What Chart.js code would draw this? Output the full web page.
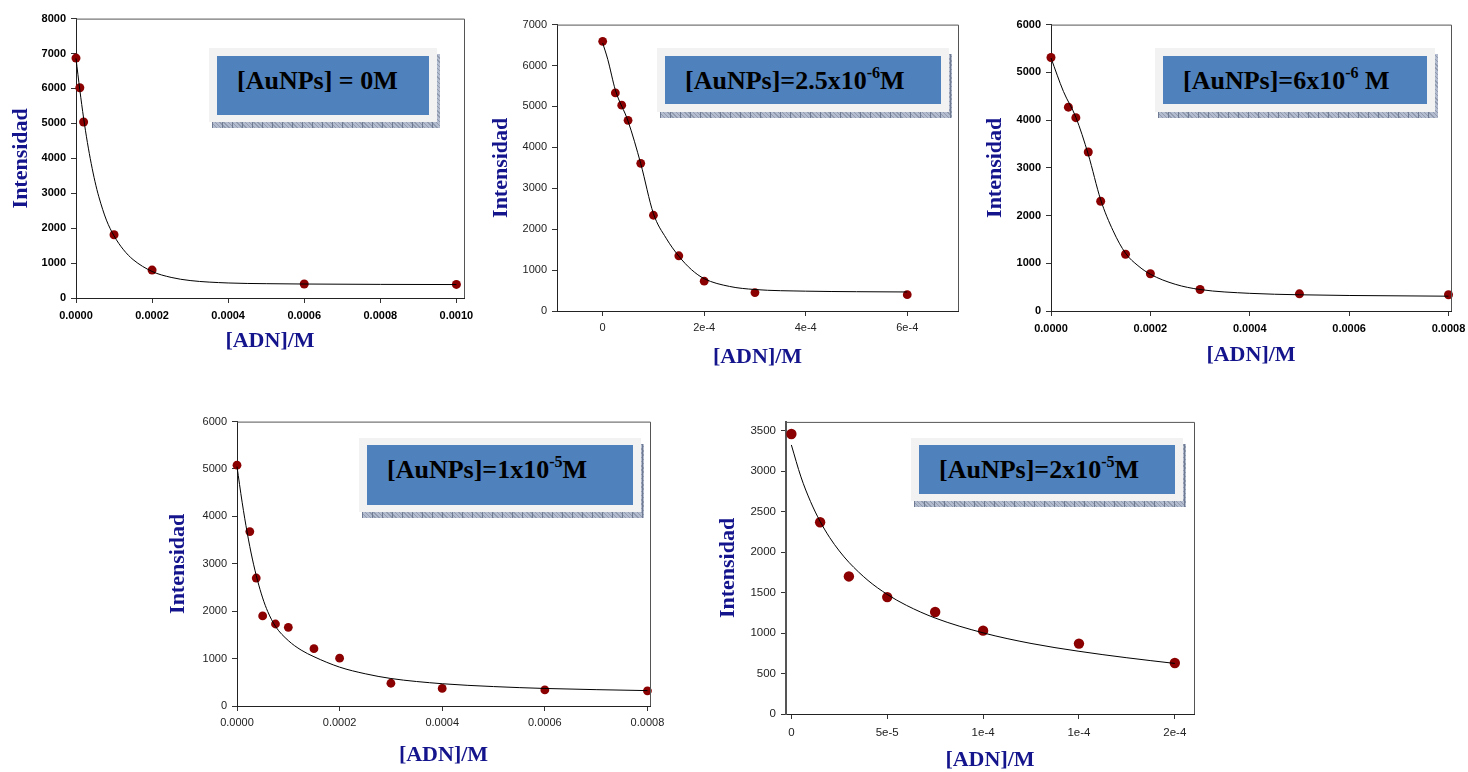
<!DOCTYPE html>
<html lang="es">
<head>
<meta charset="utf-8">
<title>Intensidad vs [ADN]</title>
<script src="https://cdn.jsdelivr.net/npm/chart.js@4.4.1/dist/chart.umd.min.js"></script>
<style>
  html, body { margin: 0; padding: 0; background: #fff; }
  body { position: relative; width: 1468px; height: 772px; overflow: hidden; }
  canvas { position: absolute; }
  .tag { position: absolute; }
  .tag .shadow {
    position: absolute;
    background-color: #b3bdcf;
    background-image:
      repeating-linear-gradient(90deg, #6f7b92 0 1px, transparent 1px 10px),
      repeating-linear-gradient(45deg, rgba(80,92,118,0.35) 0 1px, transparent 1px 3px);
  }
  .tag .outer { position: absolute; background: #f2f2f2; }
  .tag .inner {
    position: absolute; background: #4f81bd; box-sizing: border-box;
    padding: 12px 0 0 20px; line-height: 26px;
    font-family: "Liberation Serif", "Times New Roman", serif;
    font-weight: bold; font-size: 26px; color: #000; white-space: nowrap;
  }
  .tag sup { font-size: 0.62em; vertical-align: 0; position: relative; top: -0.66em; }
</style>
</head>
<body>
<script>
// ---- measured data: [ADN] (M) and fluorescence intensity ----

// [AuNPs] = 0 M
const ADN_0 = [0, 1e-5, 2e-5, 1e-4, 2e-4, 6e-4, 1e-3];
const INT_0 = [6870, 6020, 5040, 1810, 800, 400, 390];
const FIT_X_0 = [0, 1e-5, 2e-5, 3e-5, 4e-5, 5e-5, 6e-5, 8e-5, 1e-4, 1.25e-4, 1.5e-4, 2e-4, 2.5e-4, 3e-4, 4e-4, 5e-4, 6e-4, 8e-4, 1e-3];
const FIT_Y_0 = [6860, 5960, 5150, 4450, 3850, 3330, 2900, 2230, 1780, 1380, 1100, 760, 590, 500, 430, 410, 400, 390, 385];

// [AuNPs] = 2.5e-6 M
const ADN_25 = [0, 2.5e-5, 3.75e-5, 5e-5, 7.5e-5, 1e-4, 1.5e-4, 2e-4, 3e-4, 6e-4];
const INT_25 = [6590, 5330, 5030, 4660, 3610, 2340, 1350, 730, 450, 400];
const FIT_X_25 = [0, 1e-5, 2.5e-5, 5e-5, 7.5e-5, 1e-4, 1.25e-4, 1.5e-4, 1.75e-4, 2e-4, 2.5e-4, 3e-4, 4e-4, 5e-4, 6e-4];
const FIT_Y_25 = [6550, 6150, 5400, 4640, 3600, 2380, 1780, 1340, 1010, 790, 600, 525, 485, 472, 465];

// [AuNPs] = 6e-6 M
const ADN_6 = [0, 3.5e-5, 5e-5, 7.5e-5, 1e-4, 1.5e-4, 2e-4, 3e-4, 5e-4, 8e-4];
const INT_6 = [5310, 4270, 4050, 3330, 2300, 1190, 780, 450, 360, 340];
const FIT_X_6 = [0, 2.5e-5, 5e-5, 7.5e-5, 1e-4, 1.25e-4, 1.5e-4, 1.75e-4, 2e-4, 2.5e-4, 3e-4, 4e-4, 5e-4, 6e-4, 8e-4];
const FIT_Y_6 = [5300, 4600, 4060, 3280, 2330, 1680, 1210, 950, 770, 560, 450, 370, 340, 325, 310];

// [AuNPs] = 1e-5 M
const ADN_10 = [0, 2.5e-5, 3.75e-5, 5e-5, 7.5e-5, 1e-4, 1.5e-4, 2e-4, 3e-4, 4e-4, 6e-4, 8e-4];
const INT_10 = [5080, 3680, 2700, 1900, 1730, 1660, 1210, 1010, 480, 370, 340, 320];
const FIT_X_10 = [0, 1e-5, 2e-5, 3e-5, 4e-5, 5e-5, 6e-5, 7.5e-5, 1e-4, 1.25e-4, 1.5e-4, 2e-4, 2.5e-4, 3e-4, 4e-4, 5e-4, 6e-4, 7e-4, 8e-4];
const FIT_Y_10 = [5050, 4300, 3650, 3100, 2650, 2280, 1990, 1680, 1380, 1180, 1040, 820, 680, 580, 470, 410, 370, 345, 325];

// [AuNPs] = 2e-5 M
const ADN_20 = [0, 1.5e-5, 3e-5, 5e-5, 7.5e-5, 1e-4, 1.5e-4, 2e-4];
const INT_20 = [3460, 2370, 1700, 1445, 1260, 1030, 870, 630];
const FIT_X_20 = [0, 0.5e-5, 1e-5, 1.5e-5, 2e-5, 2.5e-5, 3e-5, 4e-5, 5e-5, 6e-5, 7.5e-5, 1e-4, 1.25e-4, 1.5e-4, 1.75e-4, 2e-4];
const FIT_Y_20 = [3325, 2930, 2625, 2380, 2180, 2015, 1875, 1650, 1478, 1343, 1186, 1003, 872, 775, 695, 625];

// ---- tick values and their printed labels ----
const Y_TICKS_8000 = [0, 1000, 2000, 3000, 4000, 5000, 6000, 7000, 8000];
const Y_TICKS_7000 = [0, 1000, 2000, 3000, 4000, 5000, 6000, 7000];
const Y_TICKS_6000 = [0, 1000, 2000, 3000, 4000, 5000, 6000];
const Y_TICKS_3500 = [0, 500, 1000, 1500, 2000, 2500, 3000, 3500];

const X_TICKS_0 = [0, 0.0002, 0.0004, 0.0006, 0.0008, 0.0010];
const X_LABELS_0 = ["0.0000", "0.0002", "0.0004", "0.0006", "0.0008", "0.0010"];
const X_TICKS_25 = [0, 2e-4, 4e-4, 6e-4];
const X_LABELS_25 = ["0", "2e-4", "4e-4", "6e-4"];
const X_TICKS_8 = [0, 0.0002, 0.0004, 0.0006, 0.0008];
const X_LABELS_8 = ["0.0000", "0.0002", "0.0004", "0.0006", "0.0008"];
const X_TICKS_20 = [0, 5e-5, 1e-4, 1.5e-4, 2e-4];
const X_LABELS_20 = ["0", "5e-5", "1e-4", "1e-4", "2e-4"];

const TITLES = ["[AuNPs] = 0M", "[AuNPs]=2.5x10<sup>-6</sup>M", "[AuNPs]=6x10<sup>-6</sup> M", "[AuNPs]=1x10<sup>-5</sup>M", "[AuNPs]=2x10<sup>-5</sup>M"];

// ---- panel layout (page pixels) ----
const panels = [
  { plot: [76, 17, 464, 298], yTitleX: 21, xTitleY: 341, bold: true, tickSize: 11, r: 4.5, xPad: 6,
    x: { min: 0, max: 0.00102, ticks: X_TICKS_0, labels: X_LABELS_0 },
    y: { min: 0, max: 8000, ticks: Y_TICKS_8000 },
    pts: [ADN_0, INT_0], fit: [FIT_X_0, FIT_Y_0],
    tag: { outer: [209, 48, 437, 122], inner: [217, 56, 429, 115] }, title: TITLES[0] },
  { plot: [557, 23, 958, 311], yTitleX: 501, xTitleY: 357, bold: false, tickSize: 11, r: 4.4, xPad: 5,
    x: { min: -0.00009, max: 0.0007, ticks: X_TICKS_25, labels: X_LABELS_25 },
    y: { min: 0, max: 7000, ticks: Y_TICKS_7000 },
    pts: [ADN_25, INT_25], fit: [FIT_X_25, FIT_Y_25],
    tag: { outer: [657, 48, 949, 112], inner: [665, 56, 941, 104] }, title: TITLES[1] },
  { plot: [1051, 23, 1451, 311], yTitleX: 995, xTitleY: 355, bold: true, tickSize: 11, r: 4.5, xPad: 6,
    x: { min: 0, max: 0.000805, ticks: X_TICKS_8, labels: X_LABELS_8 },
    y: { min: 0, max: 6000, ticks: Y_TICKS_6000 },
    pts: [ADN_6, INT_6], fit: [FIT_X_6, FIT_Y_6],
    tag: { outer: [1155, 48, 1435, 112], inner: [1163, 56, 1427, 104] }, title: TITLES[2] },
  { plot: [237, 420, 650, 706], yTitleX: 178, xTitleY: 755, bold: false, tickSize: 11, r: 4.4, xPad: 5,
    x: { min: 0, max: 0.000805, ticks: X_TICKS_8, labels: X_LABELS_8 },
    y: { min: 0, max: 6000, ticks: Y_TICKS_6000 },
    pts: [ADN_10, INT_10], fit: [FIT_X_10, FIT_Y_10],
    tag: { outer: [359, 438, 641, 512], inner: [367, 445, 633, 505] }, title: TITLES[3] },
  { plot: [786, 420, 1194, 714], yTitleX: 728, xTitleY: 760, bold: false, tickSize: 11.5, r: 5.2, xPad: 7, thickY: true,
    x: { min: -0.0000028, max: 0.00021, ticks: X_TICKS_20, labels: X_LABELS_20 },
    y: { min: 0, max: 3610, ticks: Y_TICKS_3500 },
    pts: [ADN_20, INT_20], fit: [FIT_X_20, FIT_Y_20],
    tag: { outer: [911, 438, 1183, 501], inner: [919, 445, 1175, 494] }, title: TITLES[4] }
];

const NAVY = '#14148c';
const TITLE_FONT = { family: '"Liberation Serif", "Times New Roman", serif', size: 22, weight: 'bold', lineHeight: 1 };

// top and right edges of the plot frame
const frame = {
  id: 'frame',
  afterDraw(chart) {
    const { ctx, chartArea: a } = chart;
    ctx.save();
    ctx.strokeStyle = '#555';
    ctx.lineWidth = 1;
    ctx.beginPath();
    ctx.moveTo(a.left, a.top + 0.5);
    ctx.lineTo(a.right + 0.5, a.top + 0.5);
    ctx.lineTo(a.right + 0.5, a.bottom);
    ctx.stroke();
    ctx.restore();
  }
};

function toXY(xs, ys) { return xs.map((x, i) => ({ x, y: ys[i] })); }

panels.forEach((p) => {
  const [pl, pt, pr, pb] = p.plot;
  const PAD_TOP = 10, PAD_RIGHT = 24;
  const left = p.yTitleX - 13;
  const top = pt - PAD_TOP;
  const right = pr + PAD_RIGHT;
  const bottom = p.xTitleY + 14;
  const yW = pl - left;
  const xH = bottom - pb;

  const cv = document.createElement('canvas');
  cv.width = right - left;
  cv.height = bottom - top;
  cv.style.left = left + 'px';
  cv.style.top = top + 'px';
  document.body.appendChild(cv);

  const tickFont = { family: '"Liberation Sans", Arial, sans-serif', size: p.tickSize, weight: p.bold ? 'bold' : 'normal' };
  const tickColor = p.bold ? '#000' : '#222';

  new Chart(cv, {
    type: 'scatter',
    data: {
      datasets: [
        { data: toXY(p.fit[0], p.fit[1]), showLine: true, pointRadius: 0, borderColor: '#000',
          borderWidth: 1, cubicInterpolationMode: 'monotone', clip: false },
        { data: toXY(p.pts[0], p.pts[1]), pointRadius: p.r, pointBackgroundColor: '#8b0000',
          pointBorderColor: '#8b0000', pointBorderWidth: 0, clip: false }
      ]
    },
    options: {
      responsive: false,
      animation: false,
      devicePixelRatio: 1,
      layout: { padding: { top: PAD_TOP, right: PAD_RIGHT, left: 0, bottom: 0 } },
      plugins: { legend: { display: false }, tooltip: { enabled: false } },
      scales: {
        x: {
          type: 'linear', min: p.x.min, max: p.x.max,
          afterBuildTicks: (s) => { s.ticks = p.x.ticks.map((v) => ({ value: v })); },
          afterFit: (s) => { s.height = xH; },
          ticks: { font: tickFont, color: tickColor, padding: p.xPad, maxRotation: 0,
                   callback: (v, i) => p.x.labels[i] },
          grid: { display: true, drawOnChartArea: false, drawTicks: true, tickLength: 5, color: '#333' },
          border: { display: true, color: '#222', width: 1 },
          title: { display: true, text: '[ADN]/M', color: NAVY, font: TITLE_FONT,
                   padding: { top: 0, bottom: bottom - p.xTitleY - 11 } }
        },
        y: {
          type: 'linear', min: p.y.min, max: p.y.max,
          afterBuildTicks: (s) => { s.ticks = p.y.ticks.map((v) => ({ value: v })); },
          afterFit: (s) => { s.width = yW; },
          ticks: { font: tickFont, color: tickColor, padding: 5, callback: (v) => String(v) },
          grid: { display: true, drawOnChartArea: false, drawTicks: true, tickLength: 5, color: '#333' },
          border: { display: true, color: p.thickY ? '#555' : '#222', width: p.thickY ? 2 : 1 },
          title: { display: true, text: 'Intensidad', color: NAVY, font: TITLE_FONT,
                   padding: { top: p.yTitleX - left - 11, bottom: 0 } }
        }
      }
    },
    plugins: [frame]
  });

  // concentration tag
  const t = p.tag;
  const tag = document.createElement('div');
  tag.className = 'tag';
  const box = (cls, r, dx, dy) => {
    const d = document.createElement('div');
    d.className = cls;
    d.style.left = (r[0] + dx) + 'px';
    d.style.top = (r[1] + dy) + 'px';
    d.style.width = (r[2] - r[0]) + 'px';
    d.style.height = (r[3] - r[1]) + 'px';
    tag.appendChild(d);
    return d;
  };
  box('shadow', t.outer, 3, 6);
  box('outer', t.outer, 0, 0);
  const inner = box('inner', t.inner, 0, 0);
  inner.innerHTML = p.title;
  document.body.appendChild(tag);
});
</script>
</body>
</html>
